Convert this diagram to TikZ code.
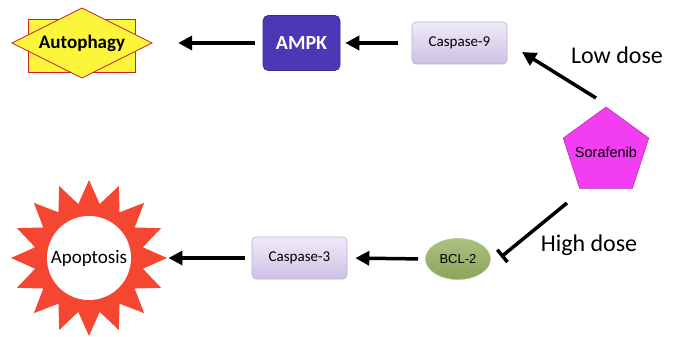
\documentclass[tikz,border=0pt]{standalone}
\usepackage{fontspec}
\setmainfont{Carlito}
\newfontfamily\arialf{Liberation Sans}
\usetikzlibrary{arrows.meta,shapes.geometric}
\definecolor{yel}{HTML}{FBF63C}
\definecolor{redb}{HTML}{D0202A}
\definecolor{ampkc}{HTML}{4C38B6}
\definecolor{ampkb}{HTML}{3A2A8F}
\definecolor{lavt}{HTML}{F0EBF7}
\definecolor{lavb}{HTML}{CDC1E5}
\definecolor{lavd}{HTML}{BBAED8}
\definecolor{mag}{HTML}{F23EF0}
\definecolor{magd}{HTML}{B02CB0}
\definecolor{grt}{HTML}{ABC17F}
\definecolor{grb}{HTML}{8DA45C}
\definecolor{grd}{HTML}{B6C792}
\definecolor{starc}{HTML}{F54632}
\tikzset{
  conn/.style={line width=3.5pt, -{Triangle[length=14pt,width=14pt]}},
  inhib/.style={line width=3.5pt, -{Bar[width=16pt,line width=3.5pt]}},
  casp/.style={draw=lavd, line width=0.6pt, rounded corners=4pt, top color=lavt, bottom color=lavb, minimum width=95pt, minimum height=42pt, font=\fontsize{15}{18}\selectfont},
}
\begin{document}
\begin{tikzpicture}[x=1pt,y=-1pt]
\useasboundingbox (0,0) rectangle (673,337);
% Autophagy
\node[draw=redb, fill=yel, line width=0.8pt, minimum width=107pt, minimum height=53pt, inner sep=0] (autor) at (82,46) {};
\draw[draw=redb, fill=yel, line width=0.8pt] (12,43) -- (82,8) -- (152,43) -- (82,78) -- cycle;
\node[inner sep=0, minimum width=140pt, minimum height=70pt, font=\bfseries\fontsize{19}{22}\selectfont] (auto) at (82,43) {Autophagy};
% AMPK
\node[draw=ampkb, fill=ampkc, rounded corners=5pt, line width=0.6pt, minimum width=77pt, minimum height=55pt, text=white, font=\bfseries\fontsize{20}{24}\selectfont] (ampk) at (301.5,43) {AMPK};
% Caspase-9
\node[casp] (c9) at (459.5,43) {Caspase-9};
% Sorafenib
\node[regular polygon, regular polygon sides=5, minimum size=90pt, inner sep=0, draw=magd, line width=0.5pt, fill=mag] (sor) at (606,152) {};
\node[font=\arialf\fontsize{14.5}{18}\selectfont] (sortext) at (606,152) {Sorafenib};
% BCL-2
\node[ellipse, minimum width=65pt, minimum height=41pt, inner sep=0, draw=grd, line width=0.6pt, top color=grt, bottom color=grb, font=\arialf\fontsize{13}{16}\selectfont] (bcl) at (458,259) {BCL-2};
% Caspase-3
\node[casp] (c3) at (299.5,258) {Caspase-3};
% Apoptosis
\node[star, star points=16, star point ratio=1.42, minimum size=156pt, inner sep=0, fill=starc] (apos) at (89,258) {};
\node[circle, fill=white, minimum size=84pt, inner sep=0, font=\fontsize{19}{22}\selectfont] (apo) at (89,258) {Apoptosis};
% labels
\node[font=\fontsize{24}{28}\selectfont] (low) at (617,55) {Low dose};
\node[font=\fontsize{24}{28}\selectfont] (high) at (589,245) {High dose};
% connectors
\draw[conn, shorten <=8pt, shorten >=26pt] (ampk.west) -- (auto.east);
\draw[conn, shorten <=14pt, shorten >=5pt] (c9.west) -- (ampk.east);
\coordinate (ld1) at (596,98);
\coordinate (ld2) at (522,52);
\draw[conn] (ld1) -- (ld2);
\coordinate (hd1) at (567,203);
\coordinate (hd2) at (501,257);
\draw[inhib] (hd1) -- (hd2);
\draw[conn, shorten <=7pt, shorten >=8pt] (bcl.west) -- (c3.east);
\draw[conn, shorten <=7pt, shorten >=1pt] (c3.west) -- (apos.east);
\end{tikzpicture}
\end{document}
